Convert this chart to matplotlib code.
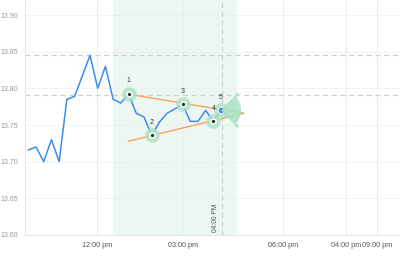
import matplotlib
matplotlib.use("Agg")
import matplotlib.pyplot as plt
from matplotlib.patches import Wedge, Circle, FancyArrowPatch
from matplotlib.transforms import IdentityTransform

plt.rcParams['font.family'] = ['Liberation Sans', 'DejaVu Sans']

# ---- data ----
prices = [13.716, 13.720, 13.700, 13.730, 13.700, 13.785, 13.789, 13.817,
          13.845, 13.800, 13.830, 13.785, 13.780, 13.792, 13.766, 13.761,
          13.736, 13.754, 13.766, 13.772, 13.778, 13.755, 13.755, 13.770,
          13.755, 13.770]
pivot_idx = [13, 16, 20, 24, 25]
pivot_labels = ["1", "2", "3", "4", "5"]
upper_line_x = [13, 27.9]
upper_line_y = [13.792, 13.766]
lower_line_x = [13, 27.9]
lower_line_y = [13.728, 13.766]
hlines = [13.8455, 13.7905]
shade_range = [10.95, 27.0]
vline_x = 25.08
vline_label = "04:00 PM"
xtick_pos = [8.91, 20.06, 33.0, 41.2, 45.2]
xtick_labels = ["12:00 pm", "03:00 pm", "06:00 pm", "04:00 pm", "09:00 pm"]
yticks = [13.60, 13.65, 13.70, 13.75, 13.80, 13.85, 13.90]

x = list(range(len(prices)))

fig = plt.figure(figsize=(4, 2.57), dpi=100)
ax = fig.add_axes([25/400, 22/257, 375/400, 235/257])
ax.set_xlim(-0.43, 48.2)
ax.set_ylim(13.60, 13.9205)

ax.axvspan(shade_range[0], shade_range[1], color='#edf7f2', zorder=0, lw=0)

for xp in xtick_pos:
    ax.axvline(xp, color='#ececec', lw=0.7, zorder=0.5)
for yv in yticks[1:]:
    ax.axhline(yv, color='#e6e6e6', lw=0.6, ls=(0, (1, 1)), zorder=0.5)
for hv in hlines:
    ax.axhline(hv, color='#cfcfcf', lw=0.9, ls=(0, (4, 3)), zorder=1)
ax.axvline(vline_x, color='#cfcfcf', lw=0.9, ls=(0, (4, 3)), zorder=1)
ax.text(vline_x - 0.8, 13.604, vline_label, rotation=90, fontsize=4.8,
        color='#555555', ha='center', va='bottom')

ax.plot(x, prices, color='#3d8bef', lw=1.1, zorder=3)
ax.plot(upper_line_x, upper_line_y, color='#f5a35e', lw=1.0, zorder=2.5)
ax.plot(lower_line_x, lower_line_y, color='#f5a35e', lw=1.0, zorder=2.5)

px = [x[i] for i in pivot_idx]
py = [prices[i] for i in pivot_idx]

# halos
ax.scatter(px, py, s=110, color='#a9e3c3', alpha=0.8, lw=0, zorder=4)
ax.scatter(px[:4], py[:4], s=22, color='white', lw=0, zorder=5)
ax.scatter(px[:4], py[:4], s=6, color='#333333', lw=0, zorder=6)
ax.scatter(px[4:], py[4:], s=22, color='#3d8bef', edgecolor='white', lw=0.6, zorder=6)

for xi, yi, lab in zip(px, py, pivot_labels):
    ax.annotate(lab, (xi, yi), xytext=(0, 7), textcoords='offset points',
                fontsize=5, ha='center', va='bottom', color='#333333', zorder=7)

# direction fan at last point (display coords)
fig.canvas.draw()
cx, cy = ax.transData.transform((px[4], py[4]))
w = Wedge((cx, cy), 20, -45, 45, transform=IdentityTransform(),
          facecolor='#a9e3c3', alpha=0.85, lw=0, zorder=3.5)
fig.add_artist(w)
for ang_dy in (19.5, -19.5):
    arr = FancyArrowPatch((cx, cy), (cx + 20, cy + ang_dy), transform=IdentityTransform(),
                          arrowstyle='-|>', mutation_scale=5, color='#a9e3c3', lw=0.8, zorder=3.6)
    fig.add_artist(arr)

ax.set_xticks(xtick_pos)
ax.set_xticklabels(xtick_labels, fontsize=5.2, color='#555555')
ax.set_yticks(yticks)
ax.set_yticklabels([f"{v:.2f}" for v in yticks], fontsize=5.0, color='#999999')
ax.tick_params(length=0, pad=5)
for s in ['top', 'right']:
    ax.spines[s].set_visible(False)
ax.spines['left'].set_color('#e6e6e6')
ax.spines['bottom'].set_color('#e6e6e6')
ax.spines['left'].set_linewidth(0.7)
ax.spines['bottom'].set_linewidth(0.7)

fig.savefig('out.png', dpi=100)
